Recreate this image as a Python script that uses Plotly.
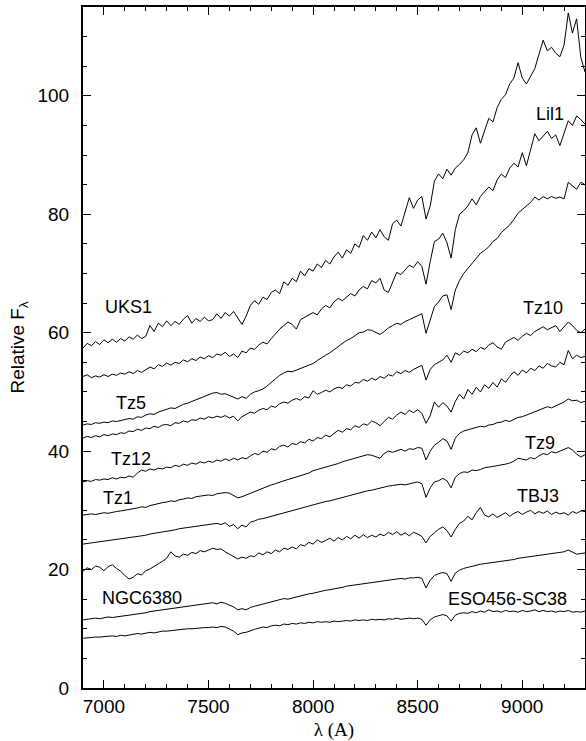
import numpy as np
import plotly.graph_objects as go

# Wavelength sampling of the spectra (Angstrom), 20 A step
wavelength = np.arange(6900, 9301, 20)

uks1 = [
    57.4, 58.2, 57.8, 58.5, 58.0, 58.8, 58.3, 58.9, 58.4, 59.0,
    58.6, 59.3, 58.9, 59.6, 59.0, 59.4, 61.2, 60.2, 61.6, 61.0,
    62.0, 61.2, 61.9, 61.4, 62.3, 62.9, 61.6, 62.4, 61.9, 62.6,
    62.0, 62.2, 63.2, 62.4, 63.4, 62.8, 63.6, 62.6, 61.4, 62.8,
    64.6, 65.4, 64.8, 66.0, 65.6, 66.8, 67.2, 66.6, 68.6, 68.0,
    69.2, 68.6, 70.4, 69.6, 70.8, 70.4, 71.6, 71.0, 72.2, 71.6,
    72.8, 73.6, 72.6, 74.0, 73.4, 75.0, 74.4, 76.4, 75.6, 77.0,
    76.0, 77.4, 76.2, 75.6, 78.4, 79.0, 78.0, 80.4, 82.8, 81.0,
    82.4, 83.0, 79.2, 81.4, 85.6, 86.8, 86.0, 87.6, 86.6, 87.8,
    88.4, 89.2, 90.4, 93.4, 94.6, 92.0, 94.0, 96.2, 95.6, 98.0,
    99.4, 100.2, 102.0, 103.0, 105.6, 103.0, 102.0, 103.4, 104.6, 107.0,
    109.4, 107.6, 108.2, 107.2, 106.6, 108.6, 114.0, 110.6, 113.0, 106.5,
    104.0,
]

lil1 = [
    52.6, 52.9, 52.4, 52.7, 52.5, 52.9, 52.6, 53.0, 52.8, 53.2,
    53.0, 53.4, 53.1, 53.6, 53.3, 53.8, 54.2, 53.9, 54.6, 54.3,
    54.9, 54.5, 55.0, 54.8, 55.4, 55.1, 55.6, 55.3, 55.9, 55.6,
    56.1, 55.8, 56.4, 56.2, 56.7, 56.0, 56.4, 55.8, 56.9, 56.6,
    57.4, 57.2, 57.9, 58.4, 58.1, 59.0, 59.8, 60.6, 61.2, 61.8,
    61.4, 60.6, 62.2, 62.6, 63.0, 63.4, 63.0, 64.0, 64.6, 64.2,
    65.2, 65.8, 65.4, 66.0, 66.6, 66.2, 67.2, 67.8, 67.4, 68.8,
    68.4, 69.2, 67.2, 66.8, 68.6, 70.2, 69.8, 70.6, 71.4, 71.0,
    72.0, 71.2, 68.2, 72.0, 75.4, 75.8, 76.8, 75.2, 72.6, 77.4,
    80.0, 80.6, 81.4, 82.6, 81.6, 83.0, 83.8, 84.6, 84.0, 85.8,
    86.8, 86.2, 87.8, 88.6, 88.0, 90.4, 88.2, 91.0, 93.6, 92.4,
    93.2, 94.0, 92.8, 93.4, 91.6, 93.8, 95.8, 95.0, 96.6, 96.0,
    95.2,
]

tz5 = [
    44.4, 44.6, 44.5, 44.8, 44.7, 44.9, 44.8, 45.1, 45.0, 45.2,
    45.3, 45.5, 45.4, 45.8, 45.7, 46.1, 46.3, 46.2, 46.6, 46.8,
    47.0, 47.3, 47.2, 47.6, 47.9, 48.1, 48.4, 48.6, 49.0, 49.3,
    49.5, 49.8, 49.9, 49.6, 49.7, 49.4, 49.0, 48.8, 49.2, 48.9,
    49.6, 50.0, 50.2, 50.5, 51.0, 51.6, 52.2, 52.8, 53.2, 53.5,
    53.4, 53.7, 53.9, 54.2, 54.6, 54.8, 55.3, 55.8, 56.2, 56.6,
    57.1, 57.6, 58.2, 58.7, 59.0, 59.5, 60.0, 60.1, 60.5, 60.4,
    60.0, 59.7, 60.2, 60.8, 61.2, 61.6, 61.4, 61.9, 62.2, 62.5,
    62.8, 63.2, 59.9, 62.0, 64.4, 65.2, 66.2, 66.4, 63.9, 67.2,
    68.8, 70.0, 70.9, 71.7, 72.6, 73.4, 73.9, 74.5, 75.4, 75.9,
    76.9, 77.6, 78.2, 79.1, 80.2, 80.8, 81.4, 82.0, 82.9, 82.4,
    83.0, 82.6, 83.0, 82.7, 82.9, 82.6, 85.4, 84.8, 84.2, 85.4,
    85.0,
]

tz10 = [
    42.2, 42.5, 42.3, 42.6, 42.4, 42.8, 42.6, 42.9, 42.8, 43.1,
    43.0, 43.4, 43.3, 43.7, 43.5, 43.9, 43.8, 44.2, 44.0, 44.4,
    44.5, 44.3, 44.8, 44.7, 45.1, 44.9, 45.3, 45.2, 45.6, 45.4,
    45.8, 45.6, 45.9, 45.7, 46.0, 45.6, 45.9, 45.1, 45.8, 46.2,
    46.6, 46.4, 46.9, 47.2, 47.0, 47.6, 47.4, 48.0, 48.3, 48.1,
    48.6, 48.9, 48.6, 49.2, 49.0, 50.2, 49.6, 49.9, 50.3, 50.0,
    50.5, 50.8, 50.6, 51.2, 51.0, 51.6, 51.5, 52.1, 51.8, 52.3,
    52.0, 52.6, 52.3, 52.9, 52.7, 53.4, 53.1, 53.6, 53.3, 53.8,
    54.2, 54.5, 52.0, 53.8, 54.6, 55.0, 55.4, 56.2, 55.0, 56.6,
    56.2, 56.9, 56.6, 57.2, 56.8, 57.5, 57.2, 57.9, 58.3, 57.6,
    57.2, 58.4, 58.8, 59.2, 58.7, 59.4, 59.9, 59.5, 60.2, 60.6,
    61.0, 60.5, 60.8, 61.2, 60.2, 61.0, 61.8, 61.2, 60.4, 60.0,
    60.6,
]

tz12 = [
    34.8, 35.0, 34.9, 35.2, 35.1, 35.3, 35.2, 35.5, 35.3, 35.6,
    35.5, 35.8, 35.6, 36.3, 36.8, 36.6, 37.0, 36.8, 37.1, 37.0,
    37.3, 37.2, 37.6, 37.4, 37.8, 37.6, 38.0, 37.8, 38.2, 38.0,
    38.3, 38.1, 38.5, 38.3, 38.7, 38.4, 38.8, 38.5, 38.9, 38.7,
    39.2, 39.6, 39.4, 40.0, 39.8, 40.4, 40.2, 40.8, 41.0, 40.7,
    41.3, 41.1, 41.6, 41.4, 42.0, 41.7, 42.3, 42.1, 42.7, 42.4,
    43.0, 43.5, 43.2, 43.8, 43.6, 44.3, 44.0, 44.6, 44.4, 45.1,
    44.8, 44.3, 45.0, 45.7, 45.4, 46.1, 46.6, 46.2, 46.9, 46.5,
    47.0, 46.4, 44.7, 46.0, 48.3, 47.4, 48.2, 47.6, 46.6, 48.4,
    49.6, 48.8, 50.4, 49.6, 50.8, 50.0, 51.2, 50.6, 51.6, 50.8,
    52.2, 51.6, 52.6, 53.4, 52.8, 53.7, 53.2, 54.0, 53.6, 54.4,
    54.0, 54.8, 54.4, 54.2, 55.0, 54.6, 57.0, 55.6, 56.2, 55.8,
    56.0,
]

tz1 = [
    29.2, 29.3, 29.4, 29.3, 29.5, 29.6, 29.5, 29.7, 29.8, 29.9,
    30.0, 30.1, 30.3, 30.4, 30.6, 30.5, 30.8, 31.0, 31.1, 31.3,
    31.4, 31.6, 31.5, 31.8, 31.9, 32.1, 32.0, 32.3, 32.4, 32.5,
    32.6, 32.5, 32.8, 32.9, 33.0, 32.9, 32.5, 32.1, 32.3, 32.6,
    32.8, 33.2, 33.5, 33.8, 34.0, 34.3, 34.5, 34.8, 35.0, 35.2,
    35.4, 35.6, 35.8, 36.1, 36.3, 36.7, 36.9, 37.1, 37.3, 37.4,
    37.7, 37.9, 38.2, 38.4, 38.6, 38.8, 39.1, 39.2, 39.4, 39.3,
    39.1, 38.8, 39.6, 40.0, 39.8, 40.1, 40.3, 40.0, 40.4, 40.3,
    40.6, 40.5, 38.5, 40.0, 41.0, 41.5, 42.1, 41.7, 40.3, 42.2,
    43.0, 43.4, 43.6, 43.9, 44.0, 44.2, 44.1, 44.4, 44.5, 44.8,
    44.9, 45.2, 45.0, 45.4, 45.7, 45.8, 46.1, 46.4, 46.6, 46.9,
    47.2, 47.5, 47.3, 47.6, 47.9, 48.3, 48.8, 48.5, 48.6, 48.2,
    48.4,
]

tz9 = [
    24.3, 24.4, 24.5, 24.6, 24.6, 24.8, 24.9, 25.0, 25.0, 25.1,
    25.2, 25.3, 25.5, 25.6, 25.7, 25.8, 26.0, 26.1, 26.2, 26.4,
    26.5, 26.6, 26.7, 26.9, 27.0, 27.1, 27.2, 27.3, 27.4, 27.5,
    27.6, 27.7, 27.8, 27.6, 27.9, 27.3, 27.6, 26.9, 27.5, 27.2,
    28.0, 28.2, 28.5, 28.6, 28.8, 29.0, 29.2, 29.4, 29.6, 29.8,
    30.0, 30.2, 30.4, 30.6, 30.8, 30.9, 31.1, 31.3, 31.5, 31.6,
    31.8, 32.0, 32.2, 32.4, 32.6, 32.8, 32.9, 33.1, 33.3, 33.4,
    33.6, 33.7, 33.9, 34.1, 34.2, 34.3, 34.4, 34.3, 34.5, 34.6,
    34.8, 34.5, 32.2, 33.8, 34.8, 35.0, 35.4, 35.0, 33.8, 35.6,
    36.2, 36.5, 36.4, 36.8, 36.7, 36.9, 37.2, 37.3, 37.4, 37.6,
    37.7, 37.8, 38.0, 38.3, 38.8, 38.7, 38.5, 38.9, 38.7, 39.2,
    39.6, 39.4, 39.9, 39.7, 40.0, 40.3, 40.6, 40.2, 39.5, 39.0,
    39.4,
]

tbj3 = [
    19.7, 20.3, 20.0, 20.6, 20.4, 19.8, 20.5, 20.8, 20.2, 19.7,
    19.0, 18.4, 18.7, 19.3, 19.1, 19.8, 20.1, 20.5, 20.9, 21.4,
    21.9, 23.0, 22.3, 22.1, 22.6, 22.4, 22.9, 22.7, 23.2, 23.0,
    23.3, 23.6, 23.4, 23.5, 23.0, 22.6, 22.2, 21.8, 22.1, 21.9,
    22.3, 22.2, 22.8, 22.5, 23.0, 22.7, 23.3, 23.0, 23.6, 23.4,
    23.8, 23.5, 24.2, 24.0, 24.6, 24.3, 25.0, 24.6, 24.9, 25.3,
    24.8, 25.4, 25.0, 25.6, 25.2, 25.8, 25.3, 25.9, 25.4, 25.8,
    25.5, 26.0, 25.7, 26.3, 25.9, 26.4, 25.8, 26.2, 25.7, 26.3,
    26.0, 25.6, 24.5, 25.6, 26.2, 26.8, 27.2, 26.6, 25.5, 26.8,
    27.8, 28.2, 29.0, 28.4, 29.6, 30.5, 29.2, 28.9, 29.4, 28.8,
    29.2, 29.6, 29.0, 29.5, 29.8, 29.3, 29.7, 30.0, 29.4, 29.8,
    29.5, 29.9, 29.3, 29.7, 29.4, 29.6, 29.2, 29.8, 29.5, 29.9,
    29.8,
]

ngc6380 = [
    11.5, 11.6, 11.6, 11.8, 11.7, 11.9, 12.0, 11.9, 12.0, 12.1,
    12.1, 12.2, 12.4, 12.5, 12.6, 12.7, 12.9, 13.0, 13.1, 13.3,
    13.3, 13.4, 13.6, 13.7, 13.8, 13.9, 14.0, 14.1, 14.2, 14.3,
    14.3, 14.4, 14.2, 14.5, 14.3, 14.0, 13.7, 13.2, 13.4, 13.2,
    13.6, 13.8, 14.0, 14.2, 14.3, 14.5, 14.8, 14.9, 15.1, 15.0,
    15.2, 15.4, 15.6, 15.7, 15.9, 16.0, 16.2, 16.3, 16.5, 16.6,
    16.7, 16.9, 17.0, 17.2, 17.3, 17.5, 17.6, 17.7, 17.8, 17.9,
    17.9, 18.0, 18.1, 18.2, 18.3, 18.4, 18.5, 18.4, 18.6, 18.6,
    18.7, 18.5, 16.9, 18.2, 19.0, 19.3, 19.5, 19.3, 18.0, 19.4,
    19.9, 20.2, 20.4, 20.6, 20.8, 20.9, 21.0, 21.1, 21.2, 21.3,
    21.3, 21.5, 21.6, 21.7, 21.9, 22.0, 22.1, 22.2, 22.2, 22.4,
    22.5, 22.6, 22.7, 22.8, 22.8, 23.0, 23.3, 22.9, 22.6, 22.7,
    22.8,
]

eso456_sc38 = [
    8.4, 8.5, 8.5, 8.6, 8.6, 8.7, 8.7, 8.8, 8.7, 8.9,
    8.8, 8.9, 9.0, 9.2, 9.1, 9.3, 9.4, 9.3, 9.5, 9.6,
    9.6, 9.7, 9.8, 9.8, 9.9, 10.0, 10.0, 10.1, 10.1, 10.2,
    10.2, 10.3, 10.2, 10.4, 10.3, 10.0, 9.6, 9.0, 9.3, 9.4,
    9.7, 9.9, 10.1, 10.3, 10.2, 10.5, 10.6, 10.5, 10.8, 10.7,
    10.9, 10.8, 11.0, 10.9, 11.1, 11.0, 11.2, 11.1, 11.2, 11.1,
    11.3, 11.2, 11.3, 11.4, 11.3, 11.5, 11.4, 11.5, 11.4, 11.6,
    11.5, 11.6, 11.5, 11.7, 11.6, 11.8, 11.6, 11.7, 11.8, 11.7,
    11.8, 11.6, 10.6, 11.5, 12.0, 12.2, 12.4, 12.2, 11.3, 12.3,
    12.6, 12.7, 12.6, 12.9, 12.7, 13.0, 12.8, 13.2, 12.9, 13.0,
    12.8, 13.1, 12.9, 13.0, 12.8, 13.1, 12.9, 13.0, 13.2, 12.9,
    13.1, 12.9, 13.0, 12.8, 13.0, 12.9, 13.1, 12.8, 12.9, 12.8,
    13.0,
]

spectra = {
    "UKS1": uks1, "Lil1": lil1, "Tz5": tz5, "Tz10": tz10, "Tz12": tz12,
    "Tz1": tz1, "Tz9": tz9, "TBJ3": tbj3, "NGC6380": ngc6380,
    "ESO456-SC38": eso456_sc38,
}

# Name labels and where they sit (wavelength, relative flux)
label_names = ["UKS1", "Lil1", "Tz5", "Tz10", "Tz12", "Tz1", "Tz9", "TBJ3",
               "NGC6380", "ESO456-SC38"]
label_x = [7119, 9133, 7129, 9100, 7129, 7067, 9086, 9076, 7181, 8929]
label_y = [64.3, 97.0, 48.1, 64.1, 38.6, 32.1, 41.4, 32.4, 15.2, 15.0]

SANS = "Liberation Sans, Arial, sans-serif"
SERIF = "Liberation Serif, Times New Roman, serif"

fig = go.Figure()
for name, flux in spectra.items():
    assert len(flux) == len(wavelength), name
    fig.add_trace(go.Scatter(x=wavelength, y=flux, mode="lines", name=name,
                             line=dict(color="black", width=1)))

for name, lx, ly in zip(label_names, label_x, label_y):
    fig.add_annotation(x=lx, y=ly, text=name, showarrow=False,
                       xanchor="center", yanchor="middle",
                       font=dict(family=SANS, size=18, color="black"))

axis_common = dict(
    showline=True, linewidth=2, linecolor="black", mirror="allticks",
    ticks="inside", tickwidth=1, tickcolor="black", ticklen=8,
    showgrid=False, zeroline=False, automargin=False,
    tickfont=dict(family=SANS, size=19, color="black"),
)

fig.update_xaxes(
    range=[6900, 9300], tickvals=[7000, 7500, 8000, 8500, 9000],
    minor=dict(dtick=100, tick0=6900, ticks="inside", ticklen=4, tickcolor="black", showgrid=False),
    ticklabelstandoff=0,
    title=dict(text="λ (A)", font=dict(family=SERIF, size=19, color="black"),
               standoff=12),
    **axis_common,
)
fig.update_yaxes(
    range=[0, 115], tickvals=[0, 20, 40, 60, 80, 100],
    minor=dict(dtick=5, tick0=0, ticks="inside", ticklen=4, tickcolor="black", showgrid=False),
    ticklabelstandoff=8,
    title=dict(text="Relative F<sub>λ</sub>", font=dict(family=SANS, size=19, color="black"),
               standoff=8),
    **axis_common,
)

fig.update_layout(
    width=586, height=741,
    margin=dict(l=83, r=1, t=7, b=53),
    plot_bgcolor="white", paper_bgcolor="white",
    showlegend=False,
)

fig.write_html("out.html")
